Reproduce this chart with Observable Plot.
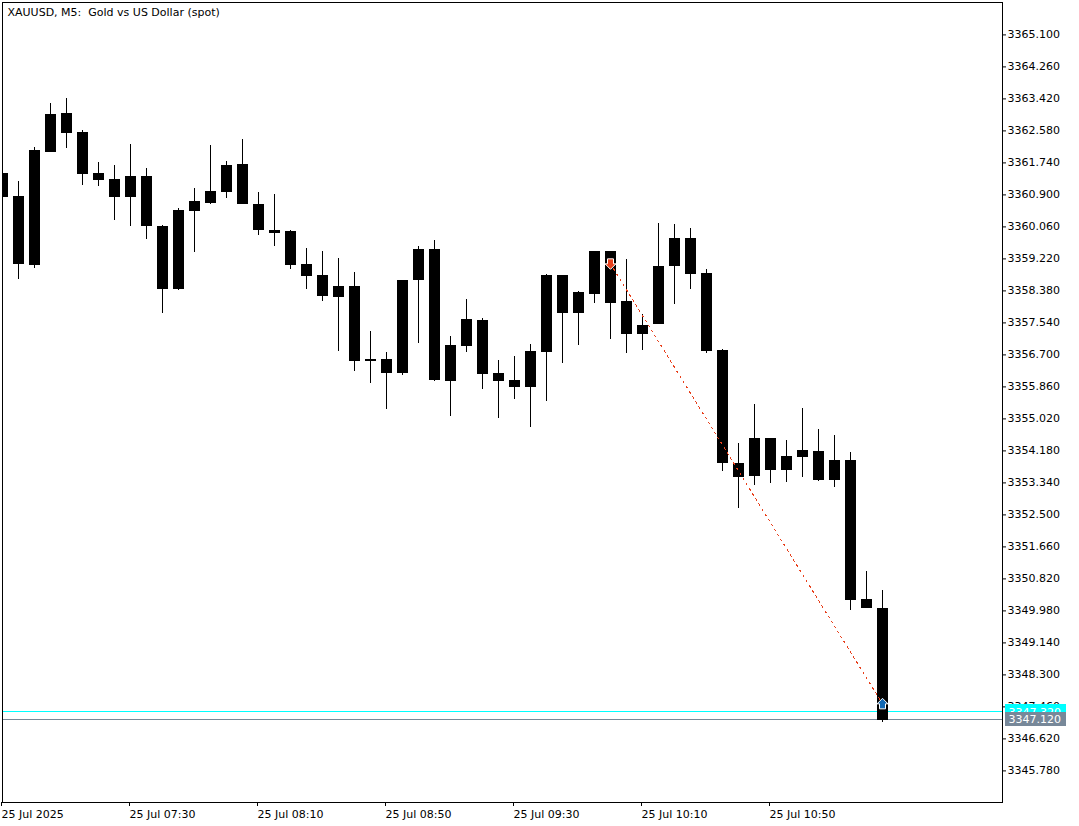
<!DOCTYPE html>
<html>
<head>
<meta charset="utf-8">
<script src="https://cdn.jsdelivr.net/npm/d3@7"></script>
<script src="https://cdn.jsdelivr.net/npm/@observablehq/plot@0.6"></script>
<style>
html,body{margin:0;padding:0;background:#fff;overflow:hidden}
svg{display:block}
</style>
</head>
<body>
<div id="chart"></div>
<script>
const titleText = "XAUUSD, M5:  Gold vs US Dollar (spot)";
const firstBar = "2025-07-25T06:50:00Z";
const open = [3361.45,3360.85,3359.04,3362.00,3363.03,3362.53,3361.45,3361.29,3360.82,3361.37,3360.06,3358.41,3360.45,3360.66,3360.95,3361.69,3360.64,3359.96,3359.93,3359.06,3358.77,3358.20,3358.49,3356.52,3356.57,3356.20,3358.64,3359.46,3355.99,3356.91,3357.59,3356.20,3356.02,3355.83,3356.75,3358.77,3357.78,3358.28,3359.40,3358.09,3357.23,3357.49,3359.01,3359.75,3358.83,3356.81,3353.84,3353.50,3354.49,3353.66,3354.00,3354.15,3353.39,3353.92,3350.27,3350.03];
const high = [3361.45,3361.24,3362.13,3363.29,3363.42,3362.58,3361.74,3361.66,3362.21,3361.58,3360.09,3360.53,3361.06,3362.19,3361.77,3362.34,3360.95,3360.90,3359.96,3359.48,3359.40,3359.22,3358.85,3357.30,3356.75,3358.64,3359.53,3359.69,3357.17,3358.14,3357.65,3356.54,3356.65,3356.96,3358.80,3358.77,3358.35,3359.40,3359.40,3359.19,3357.75,3360.14,3360.11,3360.01,3358.93,3356.83,3354.36,3355.39,3354.49,3354.44,3355.28,3354.73,3354.57,3354.13,3351.00,3350.51];
const low = [3360.82,3358.67,3358.96,3362.00,3362.11,3361.14,3361.11,3360.22,3360.06,3359.72,3357.78,3358.38,3359.38,3360.64,3360.80,3360.64,3359.82,3359.53,3358.93,3358.41,3358.09,3356.78,3356.25,3355.94,3355.26,3356.15,3356.99,3355.99,3355.07,3356.75,3355.78,3355.02,3355.52,3354.78,3355.47,3356.46,3356.94,3358.04,3357.09,3356.73,3356.81,3357.49,3358.01,3358.41,3356.73,3353.63,3352.66,3353.26,3353.31,3353.34,3353.47,3353.37,3353.21,3349.98,3350.03,3347.04];
const close = [3360.82,3359.06,3362.06,3363.00,3362.50,3361.42,3361.27,3360.82,3361.37,3360.06,3358.41,3360.48,3360.72,3360.98,3361.66,3360.64,3359.96,3359.88,3359.04,3358.75,3358.22,3358.49,3356.52,3356.57,3356.20,3358.64,3359.46,3356.02,3356.94,3357.62,3356.17,3355.99,3355.83,3356.78,3358.77,3357.78,3358.33,3359.40,3358.04,3357.23,3357.46,3359.01,3359.75,3358.80,3356.78,3353.84,3353.47,3354.49,3353.66,3354.02,3354.18,3353.39,3353.92,3350.24,3350.03,3347.09];
const priceTicks = [3365.10,3364.26,3363.42,3362.58,3361.74,3360.90,3360.06,3359.22,3358.38,3357.54,3356.70,3355.86,3355.02,3354.18,3353.34,3352.50,3351.66,3350.82,3349.98,3349.14,3348.30,3347.46,3346.62,3345.78];
const timeTicks = ["2025-07-25T06:50:00Z","2025-07-25T07:30:00Z","2025-07-25T08:10:00Z","2025-07-25T08:50:00Z","2025-07-25T09:30:00Z","2025-07-25T10:10:00Z","2025-07-25T10:50:00Z"].map(d => new Date(d));
const askPrice = 3347.32;
const bidPrice = 3347.12;
const tradeTimes = ["2025-07-25T10:00:00Z","2025-07-25T11:25:00Z"].map(d => new Date(d));
const tradePrices = [3359.08,3347.53];

const t0 = new Date(firstBar);
const bars = open.map((o,i) => ({
  time: d3.utcMinute.offset(t0, 5*i), open:o, high:high[i], low:low[i], close:close[i]
}));
const trade = tradeTimes.map((time,i) => ({time, price: tradePrices[i]}));

function arrow(dir){
  return {draw(c){
    const s = dir;
    c.moveTo(0, 5.5*s); c.lineTo(5.5, 0*s); c.lineTo(3, 0*s); c.lineTo(3, -5*s);
    c.lineTo(-3, -5*s); c.lineTo(-3, 0*s); c.lineTo(-5.5, 0*s); c.closePath();
  }};
}
const crisp = {shapeRendering:"crispEdges"};
const dateAxis = d => d3.utcFormat(+d === +timeTicks[0] ? "%d %b %Y" : "%d %b %H:%M")(d);
const font = "'DejaVu Sans', sans-serif";
const labelLeft = new Date("2025-07-25T12:03:26Z"), labelRight = new Date("2025-07-25T12:22:30Z"), labelText = new Date("2025-07-25T12:04:22Z");
const tEnd = new Date("2025-07-25T12:02:30Z");

const chart = Plot.plot({
  width:1079, height:826,
  marginLeft:2, marginRight:77, marginTop:2, marginBottom:24,
  style:{fontFamily:font, fontSize:"11px", background:"#fff", color:"#000"},
  x:{type:"utc", domain:[t0, tEnd], range:[2,1002]},
  y:{domain:[3344.94,3365.94], range:[802,2]},
  marks:[
    Plot.axisY(priceTicks, {anchor:"right", tickSize:3, tickPadding:2, tickFormat:d3.format(".3f"), label:null, fontSize:11, stroke:"#000", fill:"#000", dy:0.4}),
    Plot.axisX(timeTicks, {anchor:"bottom", tickSize:4, tickPadding:4, tickFormat:dateAxis, label:null, textAnchor:"start", fontSize:11, stroke:"#000", fill:"#000", dx:-1}),
    Plot.ruleY([askPrice], {x1:t0, x2:tEnd, stroke:"#00FFFF", strokeWidth:1, ...crisp}),
    Plot.ruleY([bidPrice], {x1:t0, x2:tEnd, stroke:"#778899", strokeWidth:1, ...crisp}),
    Plot.ruleX(bars, {x:"time", y1:"low", y2:"high", stroke:"#000", strokeWidth:1, clip:true, ...crisp}),
    Plot.ruleX(bars, {x:"time", y1:"open", y2:"close", stroke:"#000", strokeWidth:11, clip:true, ...crisp}),
    Plot.line(trade, {x:"time", y:"price", stroke:"#E8401C", strokeWidth:1, strokeDasharray:"2,4", ...crisp}),
    Plot.dot(trade.slice(0,1), {x:"time", y:"price", symbol:arrow(1), r:5, fill:"#E8401C", stroke:"#fff", strokeWidth:1}),
    Plot.dot(trade.slice(1), {x:"time", y:"price", symbol:arrow(-1), r:5, fill:"#1268B3", stroke:"#fff", strokeWidth:1}),
    Plot.frame({stroke:"#000"}),
    Plot.text([titleText], {frameAnchor:"top-left", dx:5, dy:6, fontSize:11, fill:"#000", textAnchor:"start", lineAnchor:"top"}),
    Plot.rect([askPrice], {x1:()=>labelLeft, x2:()=>labelRight, y1:()=>3347.5125, y2:()=>3347.3025, fill:"#00FFFF", ...crisp}),
    Plot.text([askPrice], {x:()=>labelText, y:d=>d, text:d3.format(".3f"), fill:"#fff", fontSize:11, textAnchor:"start", dy:0.4}),
    Plot.rect([bidPrice], {x1:()=>labelLeft, x2:()=>labelRight, y1:()=>3347.3025, y2:()=>3346.935, fill:"#778899", ...crisp}),
    Plot.text([bidPrice], {x:()=>labelText, y:d=>d, text:d3.format(".3f"), fill:"#fff", fontSize:11, textAnchor:"start", dy:0.4})
  ]
});
document.getElementById("chart").appendChild(chart);
</script>
</body>
</html>
